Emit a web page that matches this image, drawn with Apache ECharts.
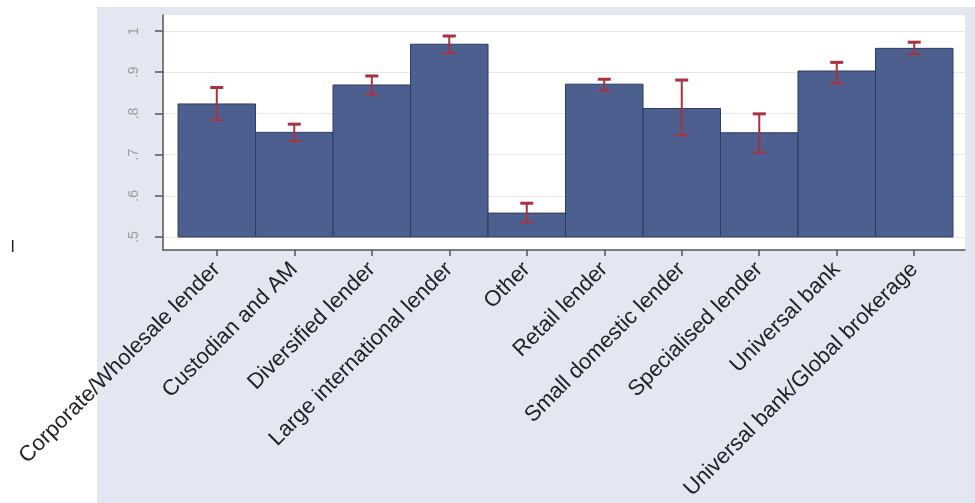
<!DOCTYPE html>
<html>
<head>
<meta charset="utf-8">
<script src="https://cdn.jsdelivr.net/npm/echarts@6/dist/echarts.min.js"></script>
<style>
html,body{margin:0;padding:0;background:#ffffff;}
#chart{width:975px;height:503px;}
</style>
</head>
<body>
<div id="chart"></div>
<script>
const categories = [
  'Corporate/Wholesale lender',
  'Custodian and AM',
  'Diversified lender',
  'Large international lender',
  'Other',
  'Retail lender',
  'Small domestic lender',
  'Specialised lender',
  'Universal bank',
  'Universal bank/Global brokerage'
];
const means = [0.823, 0.754, 0.869, 0.968, 0.558, 0.871, 0.812, 0.753, 0.903, 0.958];
const lower = [0.784, 0.733, 0.846, 0.946, 0.535, 0.855, 0.747, 0.705, 0.873, 0.944];
const upper = [0.863, 0.774, 0.891, 0.988, 0.582, 0.883, 0.881, 0.799, 0.924, 0.973];
const yTicks = [0.5, 0.6, 0.7, 0.8, 0.9, 1.0];
const yTickLabels = ['.5', '.6', '.7', '.8', '.9', '1'];
const yBase = 0.5;

const chart = echarts.init(document.getElementById('chart'), null, {renderer: 'canvas'});
const catIdx = categories.map((c, i) => i);

const option = {
  backgroundColor: '#ffffff',
  animation: false,
  graphic: [
    {type: 'rect', z: -10, left: 97, top: 7, shape: {width: 878, height: 496}, style: {fill: '#e2e7f2'}},
    {type: 'rect', z: -9, left: 163, top: 15, shape: {width: 802, height: 235}, style: {fill: '#ffffff'}},
    {type: 'text', left: 11, top: 240, style: {text: '|', fill: '#222', font: 'bold 12px "Liberation Sans"'}}
  ],
  grid: {left: 163, right: 10, top: 15, bottom: 253, containLabel: false},
  xAxis: {
    type: 'value',
    min: -0.694,
    max: 9.655,
    axisLine: {show: true, onZero: false, lineStyle: {color: '#555', width: 1.5}},
    axisTick: {show: true, customValues: catIdx, length: 6, lineStyle: {color: '#555', width: 1.5}},
    axisLabel: {
      show: true,
      customValues: catIdx,
      formatter: v => categories[Math.round(v)],
      rotate: 45,
      margin: 16,
      fontFamily: 'Liberation Sans',
      fontSize: 22,
      color: '#222'
    },
    splitLine: {show: false}
  },
  yAxis: {
    type: 'value',
    min: 0.4684,
    max: 1.039,
    axisLine: {show: true, onZero: false, lineStyle: {color: '#555', width: 1.5}},
    axisTick: {show: true, customValues: yTicks, length: 8, lineStyle: {color: '#555', width: 1.5}},
    axisLabel: {
      show: true,
      customValues: yTicks,
      formatter: v => yTickLabels[yTicks.findIndex(t => Math.abs(t - v) < 1e-6)],
      rotate: 90,
      margin: 22,
      fontFamily: 'Liberation Sans',
      fontSize: 14,
      color: '#9a9a9a'
    },
    splitLine: {show: true, lineStyle: {color: '#e6e6e6', width: 1}}
  },
  series: [
    {
      type: 'custom',
      name: 'mean',
      data: means.map((v, i) => [i, v]),
      renderItem: function (params, api) {
        const i = api.value(0), v = api.value(1);
        const tl = api.coord([i - 0.5, v]);
        const br = api.coord([i + 0.5, yBase]);
        return {
          type: 'rect',
          shape: {x: tl[0], y: tl[1], width: br[0] - tl[0], height: br[1] - tl[1]},
          style: {fill: '#4d5f8e', stroke: '#2c3b66', lineWidth: 1}
        };
      },
      z: 2
    },
    {
      type: 'custom',
      name: 'ci',
      data: lower.map((lo, i) => [i, lo, upper[i]]),
      renderItem: function (params, api) {
        const i = api.value(0);
        const lo = api.coord([i, api.value(1)]);
        const hi = api.coord([i, api.value(2)]);
        const cap = 6.5;
        const st = {stroke: '#a8323f', lineWidth: 2};
        return {
          type: 'group',
          children: [
            {type: 'line', shape: {x1: lo[0], y1: lo[1], x2: hi[0], y2: hi[1]}, style: st},
            {type: 'line', shape: {x1: hi[0] - cap, y1: hi[1], x2: hi[0] + cap, y2: hi[1]}, style: {stroke: '#a8323f', lineWidth: 3}},
            {type: 'line', shape: {x1: lo[0] - cap, y1: lo[1], x2: lo[0] + cap, y2: lo[1]}, style: st}
          ]
        };
      },
      z: 3
    }
  ]
};
chart.setOption(option);
</script>
</body>
</html>
